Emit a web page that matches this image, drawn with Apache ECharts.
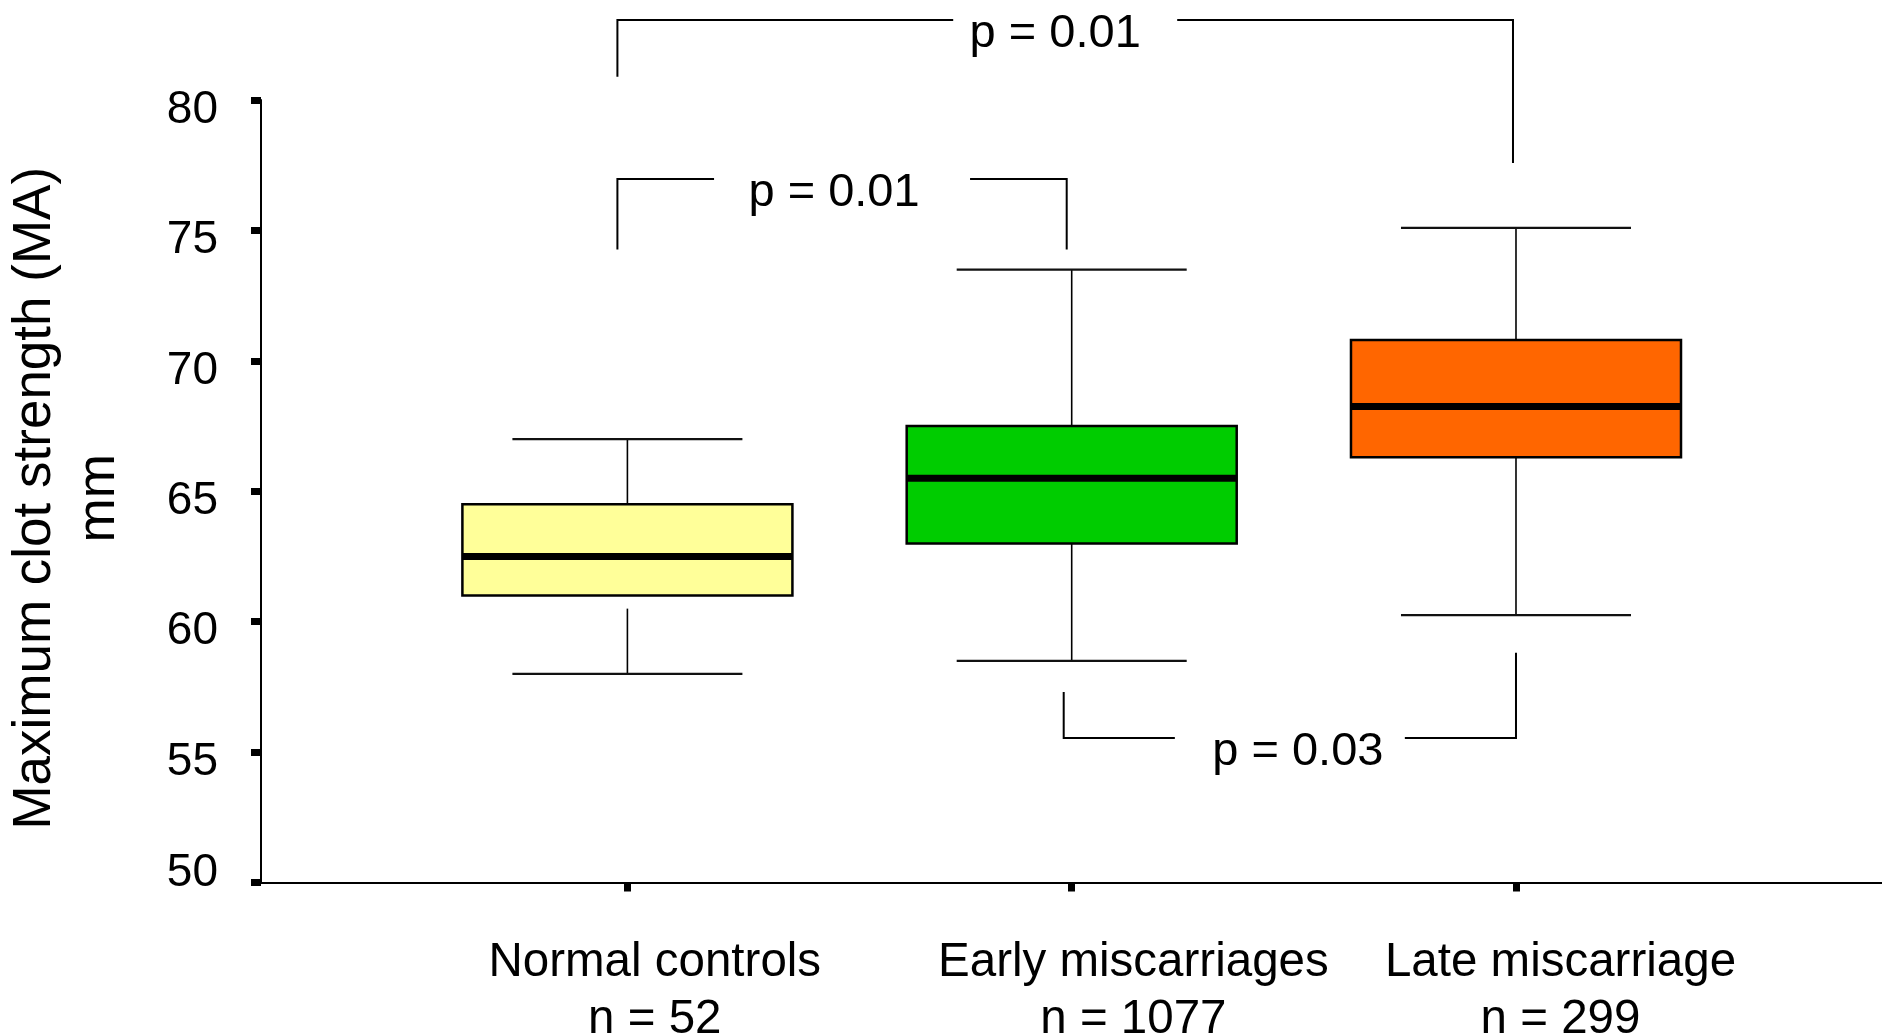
<!DOCTYPE html>
<html>
<head>
<meta charset="utf-8">
<script src="https://cdn.jsdelivr.net/npm/echarts@6/dist/echarts.min.js"></script>
<style>
html,body{margin:0;padding:0;background:#ffffff;}
#chart{width:1882px;height:1035px;}
</style>
</head>
<body>
<div id="chart"></div>
<script>
// ---------- data ----------
const categories = ['Normal controls', 'Early miscarriages', 'Late miscarriage'];
const sampleSizes = [52, 1077, 299];
const lowerWhisker = [58.0, 58.5, 60.25];
const lowerStemStart = [60.5, 63.0, 66.3];
const q1 = [61.0, 63.0, 66.3];
const median = [62.5, 65.5, 68.25];
const q3 = [64.5, 67.5, 70.8];
const upperWhisker = [67.0, 73.5, 75.1];

const yTicks = [50, 55, 60, 65, 70, 75, 80];

// significance brackets (category positions 1..3, levels in MA units)
const pLabels = ['p = 0.01', 'p = 0.01', 'p = 0.03'];
const bracketFrom = [1, 1, 2];
const bracketTo = [3, 2, 3];
const bracketLevel = [83.07, 76.97, 55.54];
const bracketFromEnd = [80.89, 74.27, 57.30];
const bracketToEnd = [77.58, 74.27, 58.81];

// ---------- layout / styling ----------
const FONT = '"Liberation Sans", Arial, Helvetica, sans-serif';
const boxColors = ['#FFFF99', '#00CC00', '#FF6600'];
const GRID_LEFT = 261, GRID_RIGHT = 0, CHART_W = 1882;
const X_MIN = 0.1753, X_MAX = 3.8238;
const unitsPerPx = (X_MAX - X_MIN) / (CHART_W - GRID_LEFT - GRID_RIGHT);
const labelShiftPx = [27.4, 61.7, 44.5];          // category labels sit right of their ticks
const labelPositions = labelShiftPx.map((s, i) => i + 1 + s * unitsPerPx);
const bracketFromNudge = [-10, -10, -8];          // px
const bracketToNudge = [-3, -5, 0];               // px
const bracketGapHalf = [112, 128, 115];           // px
const bracketTextNudge = [-10, -8, 8];            // px

const boxData = categories.map((c, i) => [i + 1, lowerWhisker[i], lowerStemStart[i], q1[i], median[i], q3[i], upperWhisker[i]]);
const bracketData = pLabels.map((p, i) => [bracketFrom[i], bracketTo[i], bracketLevel[i], bracketFromEnd[i], bracketToEnd[i]]);

const chart = echarts.init(document.getElementById('chart'), null, { renderer: 'canvas' });

const option = {
  backgroundColor: '#ffffff',
  animation: false,
  grid: { left: GRID_LEFT, right: GRID_RIGHT, top: 100, bottom: 152.5, containLabel: false, outerBoundsMode: 'none' },
  xAxis: {
    type: 'value',
    min: X_MIN,
    max: X_MAX,
    splitLine: { show: false },
    axisLine: { show: true, lineStyle: { color: '#000', width: 2 } },
    axisTick: { show: true, customValues: [1, 2, 3], interval: 0, length: 9, lineStyle: { color: '#000', width: 7 } },
    axisLabel: {
      show: true,
      customValues: labelPositions,
      interval: 0,
      hideOverlap: false,
      margin: 52,
      fontSize: 47.5,
      lineHeight: 57,
      fontFamily: FONT,
      color: '#000',
      formatter: function (v) {
        const i = Math.round(v) - 1;
        return categories[i] + '\nn = ' + sampleSizes[i];
      }
    }
  },
  yAxis: {
    type: 'value',
    min: 50,
    max: 80,
    interval: 5,
    splitLine: { show: false },
    axisLine: { show: true, lineStyle: { color: '#000', width: 2 } },
    axisTick: { show: true, length: 10, lineStyle: { color: '#000', width: 7 } },
    axisLabel: {
      margin: 43,
      formatter: function (v) {
        return v === 50 ? '{low|' + v + '}' : '{n|' + v + '}';
      },
      rich: {
        n: { fontSize: 46, fontFamily: FONT, color: '#000', padding: [20, 0, 0, 0] },
        low: { fontSize: 46, fontFamily: FONT, color: '#000', padding: [0, 0, 18, 0] }
      }
    },
    name: 'Maximum clot strength (MA)\nmm',
    nameLocation: 'middle',
    nameRotate: 90,
    nameGap: 130,
    nameTextStyle: { fontSize: 53, lineHeight: 64, fontFamily: FONT, color: '#000', padding: [0, 14, 0, 0] }
  },
  series: [
    {
      type: 'custom',
      clip: false,
      data: boxData,
      encode: { x: 0, y: [1, 2, 3, 4, 5, 6] },
      renderItem: function (params, api) {
        const i = params.dataIndex;
        const x = api.value(0);
        const unit = api.size([1, 0])[0];
        const boxW = unit * 0.7428;
        const capW = unit * 0.5177;
        const cx = api.coord([x, 0])[0];
        const yLw = api.coord([x, api.value(1)])[1];
        const yStem = api.coord([x, api.value(2)])[1];
        const yQ1 = api.coord([x, api.value(3)])[1];
        const yMed = api.coord([x, api.value(4)])[1];
        const yQ3 = api.coord([x, api.value(5)])[1];
        const yUw = api.coord([x, api.value(6)])[1];
        const thin = { stroke: '#000', lineWidth: 1.6 };
        const cap = { stroke: '#111', lineWidth: 2.2 };
        return {
          type: 'group',
          children: [
            { type: 'line', shape: { x1: cx, y1: yQ3, x2: cx, y2: yUw }, style: thin },
            { type: 'line', shape: { x1: cx - capW / 2, y1: yUw, x2: cx + capW / 2, y2: yUw }, style: cap },
            { type: 'line', shape: { x1: cx, y1: yStem, x2: cx, y2: yLw }, style: thin },
            { type: 'line', shape: { x1: cx - capW / 2, y1: yLw, x2: cx + capW / 2, y2: yLw }, style: cap },
            { type: 'rect', shape: { x: cx - boxW / 2, y: yQ3, width: boxW, height: yQ1 - yQ3 },
              style: { fill: boxColors[i], stroke: '#000', lineWidth: 2.5 } },
            { type: 'line', shape: { x1: cx - boxW / 2, y1: yMed, x2: cx + boxW / 2, y2: yMed },
              style: { stroke: '#000', lineWidth: 7 } }
          ]
        };
      }
    },
    {
      type: 'custom',
      clip: false,
      data: bracketData,
      encode: { x: [0, 1], y: [2, 3, 4] },
      renderItem: function (params, api) {
        const i = params.dataIndex;
        const p1 = api.coord([api.value(0), api.value(2)]);
        const p2 = api.coord([api.value(1), api.value(2)]);
        const e1 = api.coord([api.value(0), api.value(3)])[1];
        const e2 = api.coord([api.value(1), api.value(4)])[1];
        const x1 = p1[0] + bracketFromNudge[i];
        const x2 = p2[0] + bracketToNudge[i];
        const yL = p1[1];
        const mid = (x1 + x2) / 2;
        const g = bracketGapHalf[i];
        const ls = { stroke: '#000', lineWidth: 2, fill: null };
        return {
          type: 'group',
          children: [
            { type: 'polyline', shape: { points: [[x1, e1], [x1, yL], [mid - g, yL]] }, style: ls },
            { type: 'polyline', shape: { points: [[mid + g, yL], [x2, yL], [x2, e2]] }, style: ls },
            { type: 'text', style: { text: pLabels[i], x: mid + bracketTextNudge[i], y: yL + 14,
                align: 'center', verticalAlign: 'middle', fontSize: 47, fontFamily: FONT, fill: '#000' } }
          ]
        };
      }
    }
  ]
};

chart.setOption(option);
</script>
</body>
</html>
